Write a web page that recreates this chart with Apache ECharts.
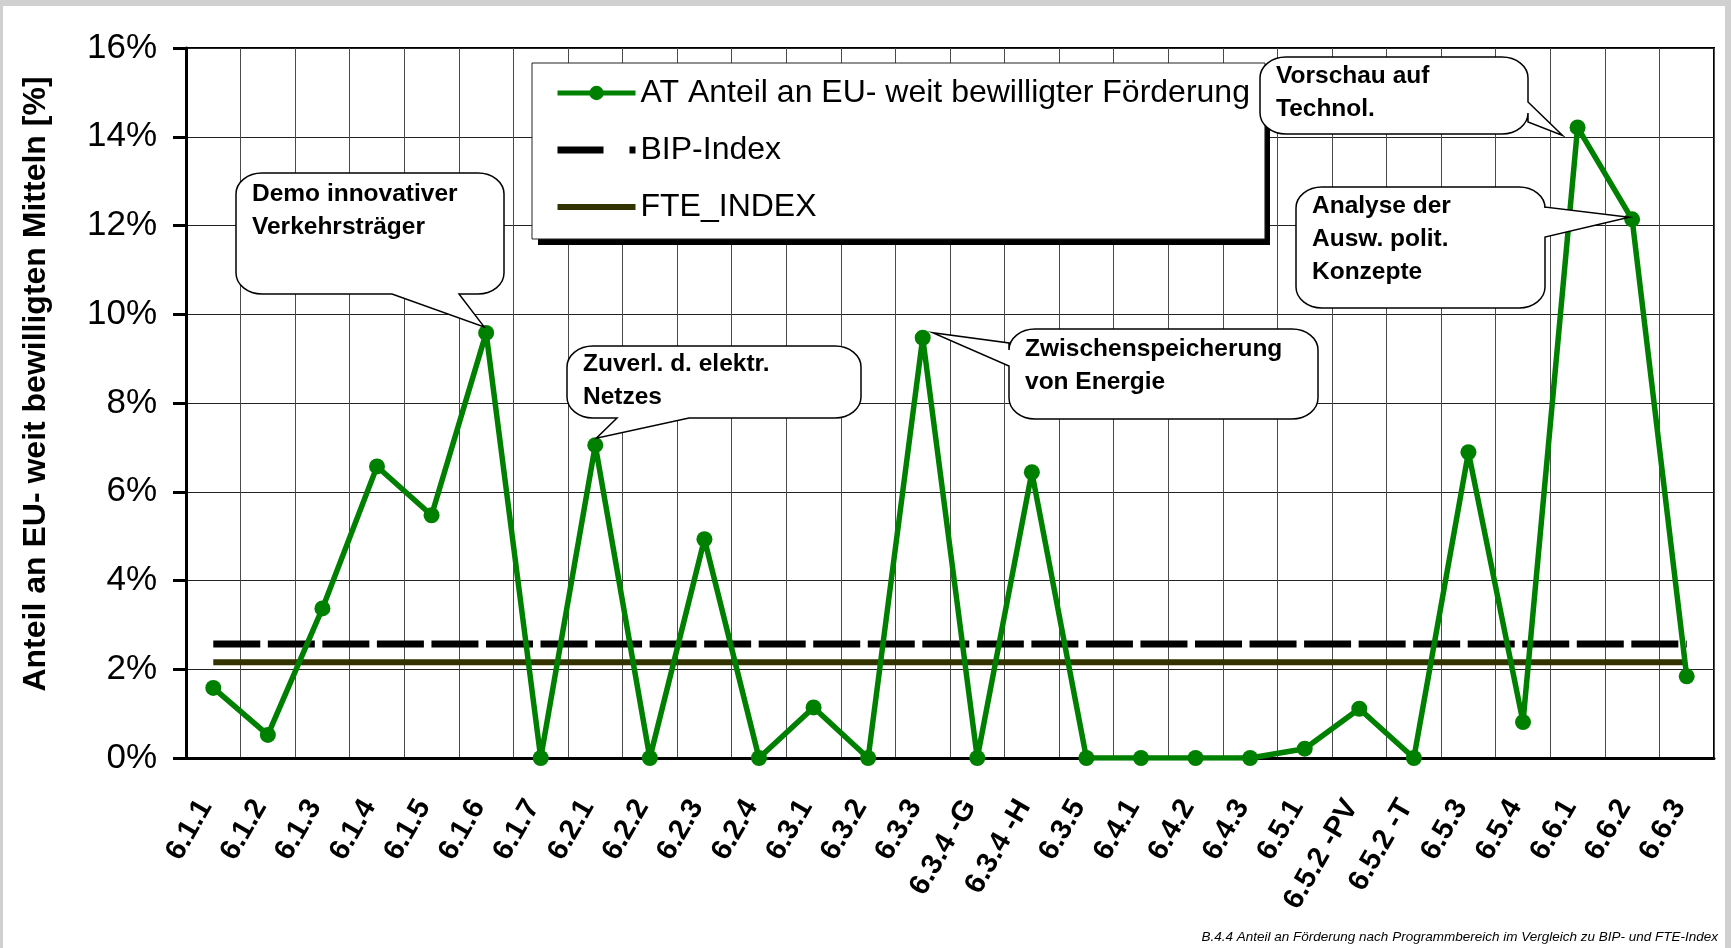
<!DOCTYPE html>
<html>
<head>
<meta charset="utf-8">
<script src="https://cdn.jsdelivr.net/npm/echarts@6/dist/echarts.min.js"></script>
<style>
  html, body { margin: 0; padding: 0; background: #d0d0d0; overflow: hidden; }
  #sheet { position: absolute; left: 3px; top: 6px; width: 1722px; height: 942px; background: #fff; }
  #chart { position: absolute; left: 0; top: 0; width: 1731px; height: 948px; }
</style>
</head>
<body>
<div id="sheet"></div>
<div id="chart"></div>
<script>
// Programme areas (x axis)
const categories = [
  '6.1.1', '6.1.2', '6.1.3', '6.1.4', '6.1.5', '6.1.6', '6.1.7',
  '6.2.1', '6.2.2', '6.2.3', '6.2.4',
  '6.3.1', '6.3.2', '6.3.3', '6.3.4 -G', '6.3.4 -H', '6.3.5',
  '6.4.1', '6.4.2', '6.4.3',
  '6.5.1', '6.5.2 -PV', '6.5.2 -T', '6.5.3', '6.5.4',
  '6.6.1', '6.6.2', '6.6.3'
];

// Austrian share of EU-wide approved funding, in percent
const shareAT = [
  1.58, 0.52, 3.37, 6.57, 5.47, 9.58, 0,
  7.05, 0, 4.93, 0,
  1.14, 0, 9.47, 0, 6.44, 0,
  0, 0, 0,
  0.21, 1.11, 0, 6.89, 0.81,
  14.21, 12.14, 1.84
];

// Reference levels, in percent
const bipIndex = 2.57;
const fteIndex = 2.16;

// Value axis ticks, in percent
const yTicks = { min: 0, max: 16, step: 2 };

const seriesNames = ['AT Anteil an EU- weit bewilligter Förderung', 'BIP-Index', 'FTE_INDEX'];
const axisTitle = 'Anteil an EU- weit bewilligten Mitteln [%]';
const caption = 'B.4.4 Anteil an Förderung nach Programmbereich im Vergleich zu BIP- und FTE-Index';

// Callout notes: category they point at, text lines
const notes = [
  { cat: '6.1.6', lines: ['Demo innovativer', 'Verkehrsträger'] },
  { cat: '6.2.1', lines: ['Zuverl. d. elektr.', 'Netzes'] },
  { cat: '6.3.3', lines: ['Zwischenspeicherung', 'von Energie'] },
  { cat: '6.6.1', lines: ['Vorschau auf', 'Technol.'] },
  { cat: '6.6.2', lines: ['Analyse der', 'Ausw. polit.', 'Konzepte'] }
];

// Box geometry of each callout and where its pointer leaves the box
const noteLayout = [
  { x: 236, y: 173, w: 268, h: 121, side: 'bottom', b1: 392, b2: 459, dx: -2, dy: -6, ty: 5 },
  { x: 567, y: 346, w: 294, h: 72, side: 'bottom', b1: 617, b2: 689, dx: 1, dy: -7, ty: 2 },
  { x: 1009, y: 329, w: 309, h: 90, side: 'left', b1: 343, b2: 366, dx: 10, dy: -5, ty: 4 },
  { x: 1260, y: 57, w: 268, h: 77, side: 'right', b1: 102, b2: 122, dx: -15, dy: 8, ty: 3 },
  { x: 1296, y: 187, w: 249, h: 121, side: 'right', b1: 207, b2: 237, dx: -3, dy: -2, ty: 3 }
];

const FONT = '"Liberation Sans", Arial, Helvetica, sans-serif';

// Speech-bubble shape: rounded box with a wedge pointing at a data point
const K = 0.5523;
const Bubble = echarts.graphic.extendShape({
  shape: { x: 0, y: 0, w: 0, h: 0, rx: 24, ry: 20, side: 'bottom', b1: 0, b2: 0, tx: 0, ty: 0 },
  buildPath: function (ctx, s) {
    const x = s.x, y = s.y, w = s.w, h = s.h, rx = s.rx, ry = s.ry;
    ctx.moveTo(x + rx, y);
    ctx.lineTo(x + w - rx, y);
    ctx.bezierCurveTo(x + w - rx + K * rx, y, x + w, y + ry - K * ry, x + w, y + ry);
    if (s.side === 'right') {
      ctx.lineTo(x + w, s.b1);
      ctx.lineTo(s.tx, s.ty);
      ctx.lineTo(x + w, s.b2);
    }
    ctx.lineTo(x + w, y + h - ry);
    ctx.bezierCurveTo(x + w, y + h - ry + K * ry, x + w - rx + K * rx, y + h, x + w - rx, y + h);
    if (s.side === 'bottom') {
      ctx.lineTo(s.b2, y + h);
      ctx.lineTo(s.tx, s.ty);
      ctx.lineTo(s.b1, y + h);
    }
    ctx.lineTo(x + rx, y + h);
    ctx.bezierCurveTo(x + rx - K * rx, y + h, x, y + h - ry + K * ry, x, y + h - ry);
    if (s.side === 'left') {
      ctx.lineTo(x, s.b2);
      ctx.lineTo(s.tx, s.ty);
      ctx.lineTo(x, s.b1);
    }
    ctx.lineTo(x, y + ry);
    ctx.bezierCurveTo(x, y + ry - K * ry, x + rx - K * rx, y, x + rx, y);
    ctx.closePath();
  }
});
echarts.graphic.registerShape('bubble', Bubble);

const chart = echarts.init(document.getElementById('chart'), null, { renderer: 'canvas' });

const lastCat = categories[categories.length - 1];

// Legend box frame (left, top, width, height) and its drop shadow offset
const legendBox = { x: 532, y: 63, w: 732, h: 176, shadow: 6 };

chart.setOption({
  animation: false,
  backgroundColor: 'transparent',
  textStyle: { fontFamily: FONT },
  grid: {
    left: 186, top: 48, right: 17, bottom: 190,
    show: true, borderColor: '#000', borderWidth: 2, backgroundColor: 'transparent'
  },
  legend: {
    left: legendBox.x, top: legendBox.y,
    orient: 'vertical',
    padding: [14, 15, 16, 22],
    itemWidth: 78, itemHeight: 18, itemGap: 25,
    backgroundColor: '#fff',
    borderColor: '#222', borderWidth: 1,
    textStyle: { fontFamily: FONT, fontSize: 32, color: '#000' },
    data: [
      { name: seriesNames[0], lineStyle: { width: 5 } },
      { name: seriesNames[1], lineStyle: { type: [46, 26], width: 7, cap: 'butt' }, itemStyle: { opacity: 0 } },
      { name: seriesNames[2], lineStyle: { width: 6 }, itemStyle: { opacity: 0 } }
    ]
  },
  xAxis: {
    type: 'category',
    data: categories,
    boundaryGap: true,
    axisLine: { show: true, onZero: false, lineStyle: { color: '#000', width: 3 } },
    axisTick: { show: false },
    axisLabel: {
      interval: 0, rotate: 60, margin: 48.5,
      align: 'right', verticalAlign: 'bottom', lineHeight: 18,
      fontFamily: FONT, fontSize: 29, fontWeight: 'bold', color: '#000'
    },
    splitLine: { show: true, interval: 0, lineStyle: { color: '#4a4a4a', width: 1 } }
  },
  yAxis: {
    type: 'value',
    min: yTicks.min, max: yTicks.max, interval: yTicks.step,
    name: axisTitle,
    nameLocation: 'middle',
    nameGap: 134,
    nameTextStyle: { fontFamily: FONT, fontSize: 32, fontWeight: 'bold', color: '#000', padding: [0, 0, 0, 38] },
    axisLine: { show: true, lineStyle: { color: '#000', width: 3 } },
    axisTick: { show: true, inside: false, length: 13, lineStyle: { color: '#000', width: 3 } },
    axisLabel: {
      formatter: function (v) { return v + '%'; },
      fontFamily: FONT, fontSize: 35, color: '#000', margin: 29
    },
    splitLine: { show: true, lineStyle: { color: '#222', width: 1 } }
  },
  series: [
    {
      name: seriesNames[1],
      type: 'line',
      data: [[categories[0], bipIndex], [lastCat, bipIndex]],
      symbol: 'none',
      lineStyle: { color: '#000', width: 7, type: [47, 7.54], cap: 'butt' },
      itemStyle: { color: '#000' },
      z: 3
    },
    {
      name: seriesNames[2],
      type: 'line',
      data: [[categories[0], fteIndex], [lastCat, fteIndex]],
      symbol: 'none',
      lineStyle: { color: '#333300', width: 6 },
      itemStyle: { color: '#333300' },
      z: 3
    },
    {
      name: seriesNames[0],
      type: 'line',
      data: shareAT,
      symbol: 'circle',
      symbolSize: 16,
      lineStyle: { color: '#008000', width: 5.5 },
      itemStyle: { color: '#008000' },
      z: 5
    }
  ]
});

// Callouts, legend shadow and caption, placed after the axes exist so pointers land on the points
const graphics = [{
  type: 'rect',
  z: 3,
  shape: { x: legendBox.x + legendBox.shadow, y: legendBox.y + legendBox.shadow, width: legendBox.w, height: legendBox.h },
  style: { fill: '#000' }
}];
notes.forEach(function (n, i) {
  const L = noteLayout[i];
  const idx = categories.indexOf(n.cat);
  const p = chart.convertToPixel({ seriesIndex: 2 }, [idx, shareAT[idx]]);
  graphics.push({
    type: 'bubble',
    z: 20,
    shape: { x: L.x, y: L.y, w: L.w, h: L.h, rx: 26, ry: 21, side: L.side, b1: L.b1, b2: L.b2, tx: p[0] + L.dx, ty: p[1] + L.dy },
    style: { fill: '#fff', stroke: '#000', lineWidth: 1.5 }
  });
  graphics.push({
    type: 'text',
    z: 21,
    x: L.x + 16,
    y: L.y + L.ty,
    style: {
      text: n.lines.join('\n'),
      font: 'bold 24.5px ' + FONT,
      lineHeight: 33,
      fill: '#000',
      align: 'left', verticalAlign: 'top'
    }
  });
});
graphics.push({
  type: 'text',
  z: 21,
  x: 1718, y: 944,
  style: {
    text: caption,
    font: 'italic 13.5px ' + FONT,
    fill: '#000',
    align: 'right', verticalAlign: 'bottom'
  }
});
chart.setOption({ graphic: graphics });
</script>
</body>
</html>
